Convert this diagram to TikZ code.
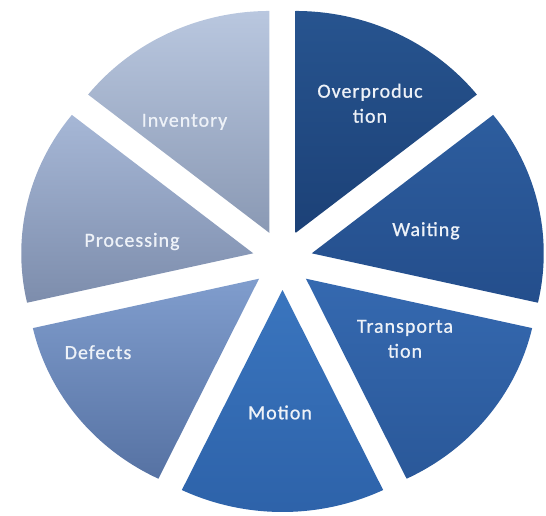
\documentclass[tikz,border=0pt]{standalone}
\usepackage{fontspec}
\setmainfont{Carlito}[LetterSpace=5,FakeBold=0.8]
\definecolor{labelc}{HTML}{EEF2F8}
\definecolor{invT}{HTML}{B9C7DF}
\definecolor{invB}{HTML}{8A99B4}
\definecolor{proT}{HTML}{A6B7D6}
\definecolor{proB}{HTML}{7D8DAC}
\definecolor{defT}{HTML}{809DCD}
\definecolor{defB}{HTML}{5672A3}
\definecolor{motT}{HTML}{3A75BE}
\definecolor{motB}{HTML}{2D62A9}
\definecolor{traT}{HTML}{3569B0}
\definecolor{traB}{HTML}{2A5899}
\definecolor{waiT}{HTML}{2D5D9E}
\definecolor{waiB}{HTML}{244E8C}
\definecolor{ovrT}{HTML}{27548F}
\definecolor{ovrB}{HTML}{1C4177}
\newcommand\wasteslice[5]{%
  \pgfmathsetmacro\midang{(#1+#2)/2}
  \path[top color=#3,bottom color=#4]
    ([shift={(\midang:30)}]C) coordinate (#5)
    -- ++(#1:232 and 222)
    arc[start angle=#1,end angle=#2,x radius=232,y radius=222]
    -- cycle;
}
\begin{document}
\begin{tikzpicture}[x=1pt,y=1pt,
  slicelabel/.style={text=labelc,font=\fontsize{20}{25}\selectfont,
    align=center,inner sep=0pt,anchor=base}]
\useasboundingbox (0,0) rectangle (546,515);
\coordinate (C) at (282.5,255);
\wasteslice{38.571}{90}{ovrT}{ovrB}{ovr}
\wasteslice{-12.857}{38.571}{waiT}{waiB}{wai}
\wasteslice{-64.286}{-12.857}{traT}{traB}{tra}
\wasteslice{-115.714}{-64.286}{motT}{motB}{mot}
\wasteslice{-167.143}{-115.714}{defT}{defB}{def}
\wasteslice{141.429}{192.857}{proT}{proB}{pro}
\wasteslice{90}{141.429}{invT}{invB}{inv}
\node[slicelabel] (lovr) at (370,392.3) {Overproduc\\tion};
\node[slicelabel] (lwai) at (426,279) {Waiting};
\node[slicelabel] (ltra) at (405,157.3) {Transporta\\tion};
\node[slicelabel] (lmot) at (280,95.7) {Motion};
\node[slicelabel] (ldef) at (98,156) {Defects};
\node[slicelabel] (lpro) at (132,268.3) {Processing};
\node[slicelabel] (linv) at (184.5,388.3) {Inventory};
\end{tikzpicture}
\end{document}
